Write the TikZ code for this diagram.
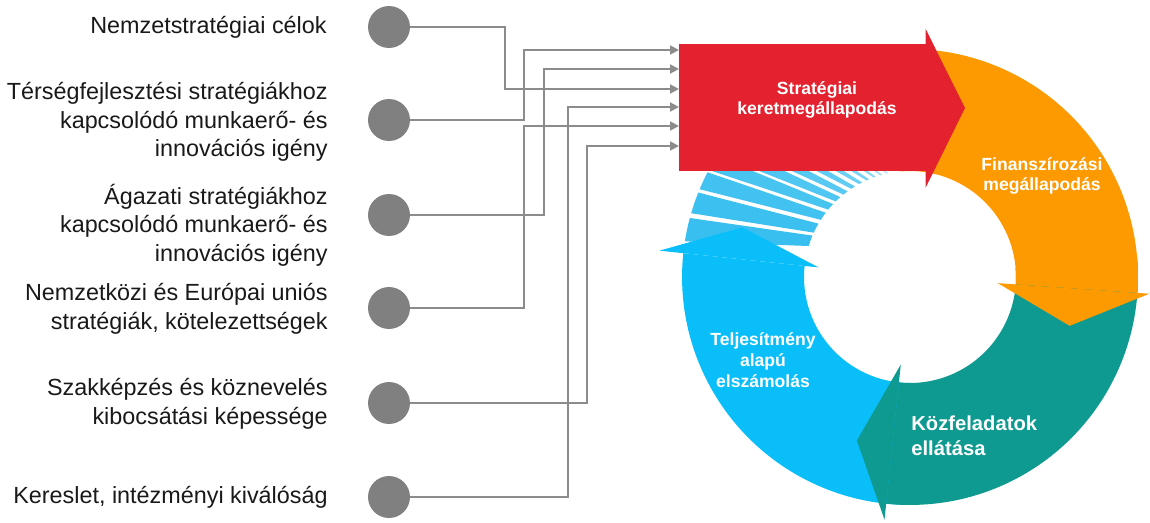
\documentclass[tikz,border=0pt]{standalone}
\usepackage{fontspec}
\setmainfont{Liberation Sans}
\usetikzlibrary{calc,arrows.meta}

\definecolor{kred}{HTML}{E4222F}
\definecolor{korange}{HTML}{FD9A02}
\definecolor{kteal}{HTML}{0E9A90}
\definecolor{kblue}{HTML}{0ABEFA}
\definecolor{kstripe}{HTML}{38BFF0}
\definecolor{kgray}{HTML}{808080}
\definecolor{klines}{HTML}{8C8C8C}

% one piece of the ring: colour, start angle, end angle
\newcommand{\ringpart}[3]{%
  \fill[#1] ($(o)+(#2:4.56cm)$) arc[start angle=#2, end angle=#3, radius=4.56cm]
    -- ($(o)+(#3:2.12cm)$) arc[start angle=#3, end angle=#2, radius=2.12cm] -- cycle;}
% a slanted stripe: colour, inner angle, width, slant
\newcommand{\ringstripe}[4]{%
  \pgfmathsetmacro{\stOa}{#2+#4-#3/2}\pgfmathsetmacro{\stOb}{#2+#4+#3/2}%
  \pgfmathsetmacro{\stIa}{#2-#3/2}\pgfmathsetmacro{\stIb}{#2+#3/2}%
  \fill[#1] ($(o)+(\stOa:4.56cm)$) arc[start angle=\stOa, end angle=\stOb, radius=4.56cm]
    -- ($(o)+(\stIb:2.12cm)$) arc[start angle=\stIb, end angle=\stIa, radius=2.12cm] -- cycle;}

\begin{document}
\begin{tikzpicture}[x=0.02cm,y=0.02cm,
    dot/.style={circle,fill=kgray,minimum size=0.84cm,inner sep=0pt},
    lbl/.style={anchor=east,align=right,inner sep=0pt,text=black!90,
      font=\fontsize{13.3}{16.2}\selectfont},
    conn/.style={draw=klines,line width=1.1pt,-{Triangle[length=5pt,width=5pt]}},
    cyc/.style={align=center,text=white,inner sep=0pt,
      font=\bfseries\fontsize{10}{11.8}\selectfont}]
    \useasboundingbox (0,0) rectangle (1150,522);

    % left side
    \node[dot] (c1) at (389,495) {};
    \node[dot] (c2) at (389,402) {};
    \node[dot] (c3) at (389,307) {};
    \node[dot] (c4) at (389,214) {};
    \node[dot] (c5) at (389,119) {};
    \node[dot] (c6) at (389,25) {};

    \node[lbl] (t1) at (327,495) {Nemzetstratégiai célok};
    \node[lbl] (t2) at (328,400) {Térségfejlesztési stratégiákhoz\\kapcsolódó munkaerő- és\\innovációs igény};
    \node[lbl] (t3) at (328,297) {Ágazati stratégiákhoz\\kapcsolódó munkaerő- és\\innovációs igény};
    \node[lbl] (t4) at (328,213) {Nemzetközi és Európai uniós\\stratégiák, kötelezettségek};
    \node[lbl] (t5) at (328,118) {Szakképzés és köznevelés\\kibocsátási képessége};
    \node[lbl] (t6) at (328,25) {Kereslet, intézményi kiválóság};

    % the cycle
    \coordinate (o) at (910,245);
    \foreach \a/\w/\d/\m in {160/6/8/100, 152.5/5.5/8.5/98, 145/4.7/10/95, 138.5/4/11.5/92,
        132.8/3.4/13/88, 127.5/2.9/14.5/84, 122.5/2.4/16/80, 117.8/2/17.5/74,
        113.5/1.6/19/68, 109.5/1.3/20/60, 105.8/1/21/52, 102.3/0.8/22/45}
      \ringstripe{kstripe!\m!white}{\a}{\w}{\d};

    \ringpart{kblue}{-90}{-186}
    \fill[kblue] ($(o)+(174:1.84cm)$) -- ($(o)+(174:5.04cm)$) -- ($(o)+(163.5:3.5cm)$) -- cycle;
    \ringpart{kteal}{5}{-96}
    \fill[kteal] ($(o)+(-96:1.76cm)$) -- ($(o)+(-96:4.88cm)$) -- ($(o)+(-108:3.44cm)$) -- cycle;
    \ringpart{korange}{95}{-4}
    \fill[korange] ($(o)+(-4:1.76cm)$) -- ($(o)+(-4:4.8cm)$) -- ($(o)+(-17:3.34cm)$) -- cycle;

    \node[fill=kred,minimum width=4.94cm,minimum height=2.54cm,inner sep=0pt,anchor=north west] (kmeg) at (679,478) {};
    \fill[kred] ($(kmeg.north east)+(-1,15)$) -- (965,414) -- ($(kmeg.south east)+(-1,-16)$) -- cycle;

    \node[cyc] (s1) at (817,422) {Stratégiai\\keretmegállapodás};
    \node[cyc] (s2) at (1042,346) {Finanszírozási\\megállapodás};
    \node[cyc] (s3) at (763,162) {Teljesítmény\\alapú\\elszámolás};
    \node[cyc,anchor=west,align=left,font=\bfseries\fontsize{11.5}{14}\selectfont] (s4) at (911,86) {Közfeladatok\\ellátása};

    % inputs into the red arrow
    \coordinate (in1) at (679,472);
    \coordinate (in2) at (679,453);
    \coordinate (in3) at (679,433);
    \coordinate (in4) at (679,415);
    \coordinate (in5) at (679,396);
    \coordinate (in6) at (679,376);

    \draw[conn] (c1) -| (505,433) -- (in3);
    \draw[conn] (c2) -| (524,472) -- (in1);
    \draw[conn] (c3) -| (544,453) -- (in2);
    \draw[conn] (c4) -| (524,396) -- (in5);
    \draw[conn] (c5) -| (587,376) -- (in6);
    \draw[conn] (c6) -| (568,415) -- (in4);
\end{tikzpicture}
\end{document}
